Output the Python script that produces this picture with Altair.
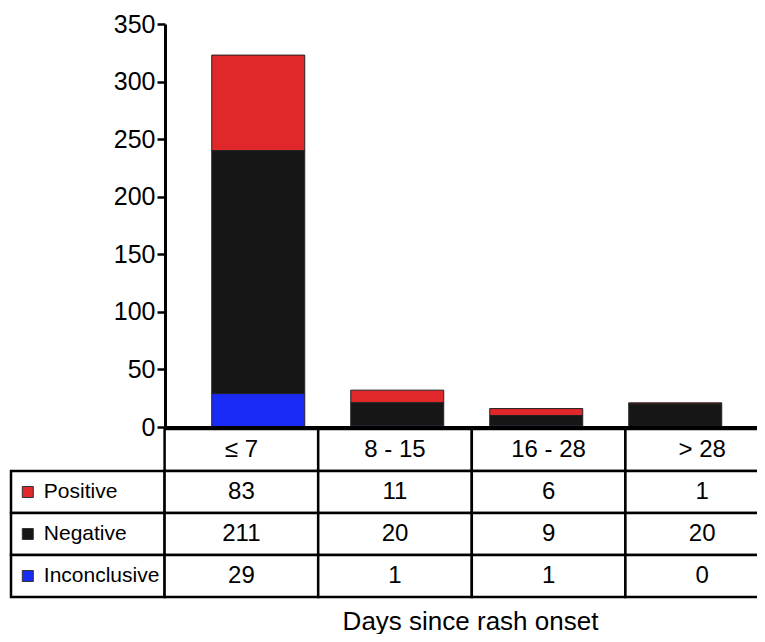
import altair as alt
import pandas as pd

# ---- data ----
categories = ["≤ 7", "8 - 15", "16 - 28", "> 28"]
series = ["Positive", "Negative", "Inconclusive"]
positive = [83, 11, 6, 1]
negative = [211, 20, 9, 20]
inconclusive = [29, 1, 1, 0]
colors = ["#e0282a", "#161616", "#1a2af5"]
y_ticks = [0, 50, 100, 150, 200, 250, 300, 350]
x_title = "Days since rash onset"

FONT = "Liberation Sans"

values = {"Positive": positive, "Negative": negative, "Inconclusive": inconclusive}
stack_rank = {"Inconclusive": 0, "Negative": 1, "Positive": 2}

bar_rows = []
for s in series:
    for c, v in zip(categories, values[s]):
        bar_rows.append({"cat": c, "series": s, "value": v, "rank": stack_rank[s]})
bars_df = pd.DataFrame(bar_rows)

table_cols = ["label"] + categories
table_rows = ["header"] + series

cell_rows = []
for c in categories:
    cell_rows.append({"col": c, "row": "header", "text": c, "kind": "header"})
for s in series:
    cell_rows.append({"col": "label", "row": s, "text": s, "kind": "label", "series": s})
    for c, v in zip(categories, values[s]):
        cell_rows.append({"col": c, "row": s, "text": str(v), "kind": "value"})
table_df = pd.DataFrame(cell_rows)

# ---- bars ----
bars = alt.Chart(bars_df).mark_bar(stroke="#222222", strokeWidth=1).encode(
    x=alt.X(
        "cat:N",
        sort=categories,
        scale=alt.Scale(type="band", domain=categories, paddingInner=0.331,
                        paddingOuter=0.295, align=0.57),
        axis=alt.Axis(
            title=x_title, labels=False, ticks=False, domain=True,
            domainWidth=3, domainColor="black", zindex=1,
            titleFont=FONT, titleFontSize=26, titleFontWeight="normal", titleColor="black",
            titleX=305, titleY=202, titleBaseline="alphabetic", titleAlign="center",
        ),
    ),
    y=alt.Y(
        "value:Q",
        stack="zero",
        scale=alt.Scale(domain=[0, 350], nice=False),
        axis=alt.Axis(
            values=y_ticks, title=None, grid=False, zindex=1,
            domainWidth=3, domainColor="black",
            tickWidth=2.5, tickColor="black", tickSize=8,
            labelFont=FONT, labelFontSize=25, labelColor="black", labelPadding=2,
        ),
    ),
    color=alt.Color("series:N", scale=alt.Scale(domain=series, range=colors), legend=None),
    order=alt.Order("rank:Q"),
)

# ---- table ----
tx = alt.X(
    "col:N",
    sort=table_cols,
    scale=alt.Scale(type="band", domain=table_cols, range=[-154, 614], paddingInner=0, paddingOuter=0),
    axis=None,
)
ty = alt.Y(
    "row:N",
    sort=table_rows,
    scale=alt.Scale(type="band", domain=table_rows, range=[405, 573], paddingInner=0, paddingOuter=0),
    axis=None,
)

base = alt.Chart(table_df)

cells = base.mark_rect(fill="white", stroke="black", strokeWidth=2.5).encode(x=tx, y=ty)

center_text = base.transform_filter(alt.datum.kind != "label").mark_text(
    font=FONT, fontSize=24, baseline="middle", align="center", color="black"
).encode(x=tx, y=ty, text="text:N")

label_text = base.transform_filter(alt.datum.kind == "label").mark_text(
    font=FONT, fontSize=21, baseline="middle", align="left", dx=-44, color="black"
).encode(x=tx, y=ty, text="text:N")

squares = base.transform_filter(alt.datum.kind == "label").mark_square(
    size=121, opacity=1, stroke="#333333", strokeWidth=1, xOffset=-60
).encode(
    x=tx, y=ty,
    color=alt.Color("series:N", scale=alt.Scale(domain=series, range=colors), legend=None),
)

table = alt.layer(cells, center_text, label_text, squares)

chart = (
    alt.layer(bars, table)
    .resolve_scale(x="independent", y="independent")
    .properties(
        width=592,
        height=403,
        autosize=alt.AutoSizeParams(type="none"),
        padding={"left": 157, "top": 16, "right": 0, "bottom": 207},
    )
    .configure_view(strokeWidth=0)
    .configure_axis(grid=False)
)

chart.save("out.html", embed_options={"renderer": "svg", "actions": False})
